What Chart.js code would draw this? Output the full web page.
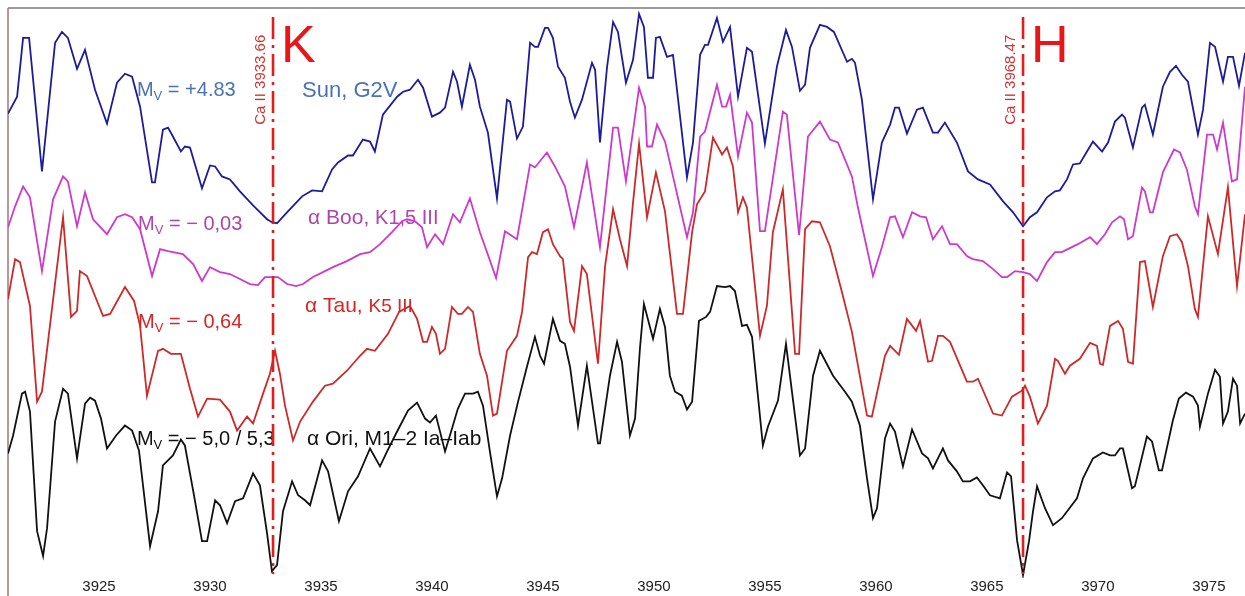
<!DOCTYPE html>
<html>
<head>
<meta charset="utf-8">
<title>Ca II H and K in four stars</title>
<script src="https://cdn.jsdelivr.net/npm/chart.js@4.4.1/dist/chart.umd.min.js"></script>
<style>
  html, body { margin: 0; padding: 0; background: #fff; }
</style>
</head>
<body>
<canvas id="spectra" width="1245" height="596"></canvas>
<script>
// wavelength (Angstrom) / relative flux, stacked with an offset per star
const sunSpec = [[3920.90,466],[3921.31,483],[3921.58,542],[3921.85,542],[3922.43,408],[3923.02,537],[3923.33,548],[3923.60,542],[3924.01,511],[3924.37,530],[3924.82,490],[3925.36,456],[3925.81,497],[3926.17,506],[3926.49,503],[3926.85,473],[3927.39,397],[3927.52,397],[3927.88,450],[3928.11,452],[3928.33,443],[3928.69,428],[3928.87,433],[3929.10,432],[3929.64,391],[3930.00,414],[3930.23,413],[3930.54,403],[3930.90,400],[3931.35,388],[3931.94,374],[3932.57,360],[3932.79,357],[3933.02,356],[3933.47,367],[3934.15,383],[3934.60,389],[3935.05,388],[3935.50,410],[3935.77,417],[3936.22,424],[3936.44,424],[3936.89,440],[3937.21,438],[3937.43,428],[3937.79,465],[3938.43,483],[3938.70,488],[3939.01,490],[3939.37,500],[3939.60,492],[3940.00,463],[3940.36,467],[3940.59,472],[3940.95,508],[3941.13,498],[3941.35,473],[3941.71,515],[3941.94,500],[3942.16,473],[3942.52,447],[3942.93,381],[3943.38,480],[3943.52,478],[3943.83,441],[3944.10,453],[3944.42,537],[3944.64,533],[3944.78,533],[3945.09,552],[3945.23,552],[3945.45,542],[3945.68,513],[3945.99,502],[3946.22,478],[3946.44,462],[3946.76,480],[3947.21,517],[3947.35,510],[3947.57,437],[3947.89,513],[3948.16,558],[3948.38,548],[3948.74,497],[3949.06,520],[3949.33,566],[3949.55,553],[3949.73,502],[3949.96,502],[3950.09,542],[3950.27,543],[3950.59,523],[3950.86,525],[3951.49,402],[3951.76,437],[3952.08,525],[3952.30,535],[3952.44,535],[3952.84,562],[3953.11,538],[3953.43,553],[3953.79,483],[3954.19,532],[3954.42,528],[3955.00,436],[3955.54,513],[3955.95,550],[3956.22,533],[3956.58,489],[3956.81,495],[3957.03,532],[3957.48,555],[3957.80,553],[3958.11,548],[3958.70,518],[3958.92,521],[3959.06,517],[3959.37,480],[3959.87,380],[3960.27,437],[3960.64,455],[3960.86,472],[3961.04,472],[3961.40,446],[3961.85,470],[3962.12,472],[3962.57,447],[3962.80,447],[3963.11,457],[3963.65,437],[3964.15,408],[3964.60,400],[3965.14,395],[3965.73,378],[3966.18,367],[3966.63,353],[3966.94,362],[3967.26,367],[3967.71,382],[3968.07,388],[3968.29,389],[3968.61,400],[3968.88,415],[3969.19,416],[3969.51,428],[3969.78,438],[3970.19,428],[3970.46,437],[3970.77,458],[3971.09,465],[3971.22,462],[3971.58,432],[3971.99,472],[3972.12,475],[3972.48,445],[3972.93,493],[3973.25,508],[3973.52,514],[3973.79,505],[3974.06,498],[3974.51,445],[3974.74,470],[3975.05,537],[3975.28,533],[3975.64,498],[3975.86,523],[3976.09,523],[3976.36,494],[3976.63,527]];

const booSpec = [[3920.90,352],[3921.22,373],[3921.58,393],[3921.89,382],[3922.43,308],[3922.93,380],[3923.38,403],[3923.60,398],[3924.01,353],[3924.37,387],[3924.73,360],[3925.36,345],[3925.81,362],[3926.17,365],[3926.49,362],[3926.85,350],[3927.39,303],[3927.75,330],[3928.11,328],[3928.78,325],[3929.24,315],[3929.64,298],[3930.00,312],[3930.45,307],[3930.90,305],[3931.35,300],[3931.80,295],[3932.16,294],[3932.48,302],[3932.70,302],[3933.06,302],[3933.47,295],[3933.88,293],[3934.19,295],[3934.64,302],[3935.09,307],[3935.54,312],[3936.17,318],[3936.76,325],[3937.21,327],[3937.66,335],[3938.20,347],[3938.65,358],[3938.88,360],[3939.24,358],[3939.55,352],[3939.78,332],[3940.14,345],[3940.50,335],[3940.95,365],[3941.26,357],[3941.71,381],[3942.16,347],[3942.48,327],[3942.89,301],[3943.29,348],[3943.83,340],[3944.42,415],[3944.64,412],[3945.18,427],[3945.54,413],[3945.99,393],[3946.40,352],[3946.98,417],[3947.57,332],[3948.16,452],[3948.38,452],[3948.74,398],[3949.33,492],[3949.60,473],[3949.69,433],[3949.91,433],[3950.14,455],[3950.50,438],[3951.49,342],[3951.76,367],[3952.08,443],[3952.30,448],[3952.84,495],[3953.07,473],[3953.25,473],[3953.43,485],[3953.79,423],[3954.19,467],[3954.42,457],[3954.78,348],[3955.00,348],[3955.81,468],[3955.99,465],[3956.54,344],[3956.94,443],[3957.48,458],[3957.93,440],[3958.29,437],[3958.92,403],[3959.19,372],[3959.87,303],[3960.27,332],[3960.64,362],[3960.86,363],[3961.22,342],[3961.63,367],[3961.99,363],[3962.26,362],[3962.57,340],[3962.98,353],[3963.34,335],[3963.65,335],[3964.10,323],[3964.37,320],[3964.82,318],[3965.28,310],[3965.68,302],[3965.91,302],[3966.27,308],[3966.63,307],[3966.94,305],[3967.26,298],[3967.71,317],[3968.07,327],[3968.38,327],[3968.65,330],[3969.10,335],[3969.65,342],[3969.96,335],[3970.32,345],[3970.64,357],[3971.00,363],[3971.18,360],[3971.36,340],[3971.58,343],[3971.99,392],[3972.12,388],[3972.35,367],[3972.48,367],[3972.93,407],[3973.43,430],[3973.70,427],[3974.01,410],[3974.37,373],[3974.51,365],[3974.92,445],[3975.19,445],[3975.37,430],[3975.64,457],[3976.04,398],[3976.27,400],[3976.63,493]];

const tauSpec = [[3920.90,280],[3921.22,320],[3921.44,317],[3921.89,273],[3922.21,177],[3922.43,187],[3923.38,362],[3923.74,262],[3924.01,268],[3924.14,308],[3924.46,303],[3924.91,278],[3925.18,263],[3925.50,265],[3926.17,292],[3926.58,278],[3926.85,253],[3927.16,183],[3927.66,228],[3927.88,230],[3928.24,225],[3928.69,225],[3929.10,190],[3929.46,162],[3929.87,180],[3930.45,179],[3930.90,167],[3931.22,148],[3931.67,162],[3931.94,155],[3932.39,185],[3932.70,205],[3932.93,228],[3933.15,205],[3933.38,173],[3933.74,138],[3934.06,157],[3934.64,177],[3935.18,193],[3935.54,195],[3936.17,208],[3936.76,223],[3937.07,230],[3937.43,228],[3938.02,245],[3938.52,267],[3939.01,273],[3939.33,260],[3939.60,237],[3939.78,237],[3940.00,252],[3940.18,245],[3940.36,225],[3940.59,230],[3940.90,272],[3941.17,265],[3941.35,265],[3941.62,272],[3941.85,267],[3942.16,225],[3942.48,203],[3942.75,163],[3942.93,165],[3943.38,228],[3943.83,243],[3944.06,267],[3944.33,322],[3944.51,327],[3944.73,325],[3945.00,347],[3945.23,350],[3945.45,335],[3945.77,323],[3945.90,320],[3946.22,257],[3946.40,248],[3946.76,313],[3946.98,305],[3947.48,215],[3947.80,313],[3948.16,370],[3948.47,340],[3948.79,313],[3949.06,377],[3949.33,436],[3949.69,362],[3950.09,407],[3950.50,368],[3951.04,265],[3951.31,265],[3951.72,347],[3951.94,375],[3952.30,388],[3952.66,442],[3953.07,425],[3953.29,432],[3953.56,413],[3953.79,367],[3954.01,382],[3954.19,372],[3954.78,243],[3955.09,273],[3955.36,347],[3955.81,390],[3956.36,225],[3956.54,225],[3956.81,350],[3957.12,358],[3957.48,357],[3957.93,333],[3958.47,287],[3958.92,247],[3959.60,163],[3959.82,162],[3960.41,223],[3960.64,233],[3961.04,224],[3961.40,260],[3961.81,248],[3961.99,258],[3962.35,217],[3962.53,218],[3962.80,243],[3963.02,243],[3963.34,237],[3964.10,197],[3964.37,197],[3964.60,200],[3965.28,165],[3965.68,163],[3966.13,182],[3966.58,188],[3966.72,193],[3966.94,182],[3967.30,155],[3967.71,173],[3968.07,220],[3968.20,218],[3968.52,205],[3968.74,213],[3969.19,220],[3969.65,236],[3969.96,233],[3970.10,215],[3970.23,214],[3970.55,253],[3970.91,258],[3971.13,250],[3971.36,217],[3971.58,215],[3971.90,317],[3972.12,318],[3972.48,272],[3972.93,323],[3973.25,343],[3973.56,345],[3973.79,337],[3974.06,313],[3974.37,270],[3974.51,262],[3974.96,363],[3975.41,325],[3975.86,392],[3976.27,293],[3976.63,365]];

const oriSpec = [[3920.90,125],[3921.13,143],[3921.53,185],[3921.67,187],[3921.89,167],[3922.21,47],[3922.48,22],[3922.66,50],[3923.02,157],[3923.38,190],[3923.60,185],[3924.01,120],[3924.37,175],[3924.60,181],[3924.82,178],[3925.09,160],[3925.36,130],[3925.77,143],[3926.17,153],[3926.49,148],[3926.80,128],[3927.30,32],[3927.66,67],[3927.88,113],[3928.33,123],[3928.69,139],[3928.87,133],[3929.28,83],[3929.64,37],[3929.87,37],[3930.23,78],[3930.45,73],[3930.77,55],[3931.13,77],[3931.49,80],[3931.94,105],[3932.25,93],[3932.57,45],[3932.79,7],[3933.02,13],[3933.29,67],[3933.70,97],[3933.97,83],[3934.28,78],[3934.51,73],[3935.05,118],[3935.32,107],[3935.81,57],[3936.22,87],[3936.67,102],[3937.21,130],[3937.66,112],[3937.98,127],[3938.43,147],[3938.92,168],[3939.33,176],[3939.69,160],[3939.91,156],[3940.18,163],[3940.59,127],[3940.81,143],[3941.17,170],[3941.49,185],[3941.85,185],[3942.07,187],[3942.30,173],[3942.61,127],[3942.93,82],[3943.16,100],[3943.52,143],[3943.88,177],[3944.28,212],[3944.64,242],[3944.87,223],[3945.05,215],[3945.45,260],[3945.77,238],[3945.99,235],[3946.22,212],[3946.58,153],[3946.98,213],[3947.48,135],[3947.57,135],[3948.02,203],[3948.34,237],[3948.56,217],[3948.92,143],[3949.15,160],[3949.37,230],[3949.55,275],[3949.96,240],[3950.27,270],[3950.50,252],[3950.72,203],[3950.95,187],[3951.26,183],[3951.49,169],[3951.72,177],[3952.03,258],[3952.35,262],[3952.53,267],[3952.84,293],[3953.20,292],[3953.43,293],[3953.65,288],[3953.97,253],[3954.19,254],[3954.42,242],[3954.91,133],[3955.14,152],[3955.59,178],[3955.95,235],[3956.27,178],[3956.58,123],[3956.81,130],[3957.17,203],[3957.48,228],[3958.07,203],[3958.61,187],[3958.92,177],[3959.28,153],[3959.60,100],[3959.87,60],[3960.05,70],[3960.41,140],[3960.64,155],[3960.86,147],[3961.22,112],[3961.63,149],[3962.08,125],[3962.35,120],[3962.57,110],[3963.02,130],[3963.25,118],[3963.65,107],[3963.92,97],[3964.24,97],[3964.55,101],[3964.82,93],[3965.14,83],[3965.59,80],[3965.91,106],[3966.09,102],[3966.36,38],[3966.63,3],[3966.90,37],[3967.08,67],[3967.26,92],[3967.62,70],[3967.98,53],[3968.38,60],[3969.06,80],[3969.33,100],[3969.78,120],[3970.23,126],[3970.55,123],[3970.77,123],[3971.00,130],[3971.13,130],[3971.54,90],[3971.67,92],[3972.21,142],[3972.44,137],[3972.75,108],[3972.89,108],[3973.38,158],[3973.65,180],[3973.97,186],[3974.29,182],[3974.51,173],[3974.60,152],[3974.96,185],[3975.28,209],[3975.50,202],[3975.64,155],[3975.86,167],[3976.09,200],[3976.27,193],[3976.41,155],[3976.63,165]];

const starNames = ['Sun,', 'α Boo,', 'α Tau,', 'α Ori,'];
const spClasses = ['G2V', 'K1,5 III', 'K5 III', 'M1–2 Ia–Iab'];
const absMags = ['+4.83', '− 0,03', '− 0,64', '− 5,0 / 5,3'];
const lineColors = ['#1c1c99', '#cc3acc', '#cc2a2a', '#111111'];
const textColors = ['#4a72b5', '#ad45ad', '#d82424', '#111111'];

// Ca II lines as they fall on this wavelength axis, with their lab values
const caWaves = [3932.84, 3966.63];
const caNames = ['Ca II 3933.66', 'Ca II 3968.47'];
const caLetters = ['K', 'H'];

const FONT = "'Liberation Sans', Arial, sans-serif";
Chart.defaults.font.family = FONT;

// where the labels sit, in axis units
const magAt = [[3926.71, 484], [3926.76, 349], [3926.76, 251], [3926.71, 133]];
const nameAt = [[3934.15, 483], [3934.42, 355], [3934.28, 267], [3934.37, 133]];
const nameSize = [22, 21, 21, 21];
const classSize = [22, 20, 19, 21];

function drawMag(ctx, x, y, mag, color) {
  ctx.fillStyle = color;
  ctx.font = '20px ' + FONT;
  ctx.fillText('M', x, y);
  let w = ctx.measureText('M').width;
  ctx.font = '13px ' + FONT;
  ctx.fillText('V', x + w, y + 4);
  w += ctx.measureText('V').width;
  ctx.font = '20px ' + FONT;
  ctx.fillText(' = ' + mag, x + w, y);
}

const annotate = {
  id: 'annotate',
  beforeDatasetsDraw(chart) {
    const {ctx, chartArea: a, scales: {x, y}} = chart;
    ctx.save();
    // frame
    ctx.lineWidth = 1.5;
    ctx.strokeStyle = '#7a7a7a';
    ctx.beginPath(); ctx.moveTo(a.left, a.top); ctx.lineTo(a.right, a.top); ctx.stroke();
    ctx.strokeStyle = '#a07474';
    ctx.beginPath(); ctx.moveTo(a.left, a.top); ctx.lineTo(a.left, chart.height); ctx.stroke();

    ctx.textBaseline = 'alphabetic';
    ctx.textAlign = 'left';
    for (let i = 0; i < starNames.length; i++) {
      drawMag(ctx, x.getPixelForValue(magAt[i][0]), y.getPixelForValue(magAt[i][1]), absMags[i], textColors[i]);
      const nx = x.getPixelForValue(nameAt[i][0]);
      const ny = y.getPixelForValue(nameAt[i][1]);
      ctx.fillStyle = textColors[i];
      ctx.font = nameSize[i] + 'px ' + FONT;
      const nameTxt = starNames[i] + ' ';
      ctx.fillText(nameTxt, nx, ny);
      const w = ctx.measureText(nameTxt).width;
      ctx.font = classSize[i] + 'px ' + FONT;
      ctx.fillText(spClasses[i], nx + w, ny);
    }
    ctx.restore();
  },
  afterDatasetsDraw(chart) {
    const {ctx, scales: {x, y}} = chart;
    ctx.save();
    caWaves.forEach((w, i) => {
      const px = x.getPixelForValue(w);
      ctx.strokeStyle = '#e01e1e';
      ctx.lineWidth = 2.6;
      ctx.setLineDash([22, 6, 3, 6]);
      ctx.beginPath();
      ctx.moveTo(px, y.getPixelForValue(563));
      ctx.lineTo(px, y.getPixelForValue(4));
      ctx.stroke();
      ctx.setLineDash([]);

      // big letter
      ctx.fillStyle = '#ea1518';
      ctx.font = '52px ' + FONT;
      ctx.textAlign = 'left';
      ctx.textBaseline = 'alphabetic';
      ctx.fillText(caLetters[i], px + 8, y.getPixelForValue(518));

      // rotated line id
      ctx.save();
      ctx.translate(px - 12, y.getPixelForValue(500));
      ctx.rotate(-Math.PI / 2);
      ctx.fillStyle = '#cc3636';
      ctx.font = '15px ' + FONT;
      ctx.textAlign = 'center';
      ctx.textBaseline = 'middle';
      ctx.fillText(caNames[i], 0, 0);
      ctx.restore();
    });
    ctx.restore();
  }
};

const specs = [sunSpec, booSpec, tauSpec, oriSpec];

new Chart(document.getElementById('spectra'), {
  type: 'line',
  data: {
    datasets: specs.map((s, i) => ({
      label: starNames[i],
      data: s.map(p => ({x: p[0], y: p[1]})),
      borderColor: lineColors[i],
      borderWidth: 1.8,
      pointRadius: 0,
      tension: 0,
      fill: false
    }))
  },
  options: {
    responsive: false,
    animation: false,
    layout: {padding: {top: 8, left: 8, right: 0, bottom: 0}},
    plugins: {legend: {display: false}, tooltip: {enabled: false}},
    scales: {
      x: {
        type: 'linear',
        min: 3920.90,
        max: 3976.63,
        grid: {display: false, drawTicks: false},
        border: {display: false},
        ticks: {
          stepSize: 5,
          includeBounds: false,
          padding: 0,
          color: '#222',
          font: {size: 15},
          maxRotation: 0,
          autoSkip: false,
          callback: v => String(v)
        }
      },
      y: {display: false, min: 0, max: 572}
    }
  },
  plugins: [annotate]
});
</script>
</body>
</html>
